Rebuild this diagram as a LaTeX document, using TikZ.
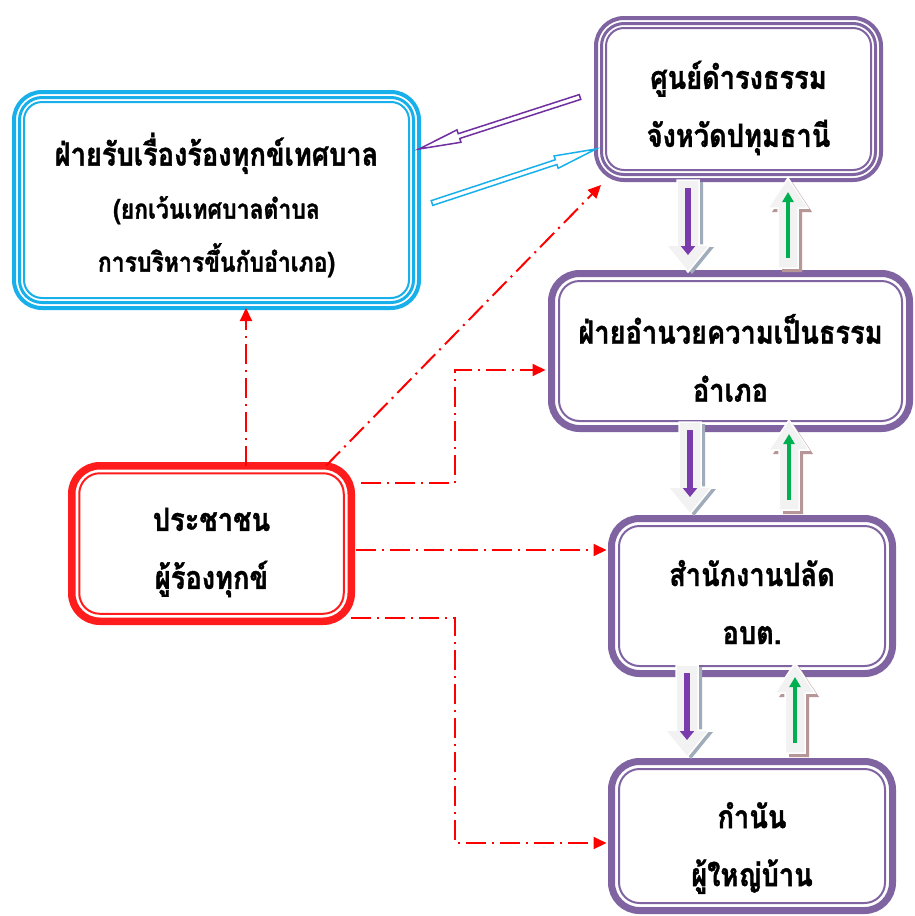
\documentclass[tikz,border=0pt]{standalone}
\usepackage{fontspec}
\newfontfamily\thai[Script=Thai, FakeStretch=0.85, BoldFeatures={FakeBold=1.2}]{Loma}
\usetikzlibrary{arrows.meta,calc}
\definecolor{boxpurple}{RGB}{128,100,162}
\definecolor{boxblue}{RGB}{24,176,234}
\definecolor{boxred}{RGB}{255,28,28}
\definecolor{arrpurple}{RGB}{112,48,160}
\definecolor{dnshade}{RGB}{160,172,186}
\definecolor{upshade}{RGB}{182,150,150}
\definecolor{dnlinec}{RGB}{122,60,172}
\definecolor{uplinec}{RGB}{0,176,80}
\definecolor{blockfill}{RGB}{242,242,242}
\begin{document}
\begin{tikzpicture}[x=1pt,y=-1pt,
  thaitxt/.style={font=\thai\bfseries\fontsize{32}{58}\selectfont, align=center, text=black, inner sep=0pt},
  tribox/.style={draw=#1, line width=4pt, rounded corners=28pt, inner sep=0pt, outer sep=0pt},
  thickbox/.style={draw=#1, line width=7pt, rounded corners=28pt, inner sep=0pt, outer sep=0pt},
  midline/.style={draw=#1, line width=3pt, rounded corners=22.5pt},
  thinline/.style={draw=#1, line width=2pt, rounded corners=18pt},
  innerthin/.style={draw=#1, line width=2pt, rounded corners=20.5pt},
  redcon/.style={draw=red, line width=2pt, dash pattern=on 20pt off 6pt on 2pt off 6pt, -{Triangle[length=13pt,width=12pt]}},
  hollow/.style={draw=#1, line width=1.5pt, line join=miter},
  blockface/.style={fill=blockfill, draw=white, line width=1.5pt},
  dnblock/.pic={
    \fill[dnshade, shift={(4,2)}] (-11,0) -- (11,0) -- (11,65) -- (22,65) -- (0,92) -- (-22,65) -- (-11,65) -- cycle;
    \draw[blockface] (-11,0) -- (11,0) -- (11,65) -- (22,65) -- (0,92) -- (-22,65) -- (-11,65) -- cycle;
    \draw[draw=dnlinec, line width=6pt, -{Triangle[length=9pt,width=14pt]}] (0,8) -- (0,75);
  },
  upblock/.pic={
    \fill[upshade, shift={(4,4)}] (0,0) -- (20,30) -- (10,30) -- (10,90) -- (-10,90) -- (-10,30) -- (-20,30) -- cycle;
    \draw[blockface] (0,0) -- (20,30) -- (10,30) -- (10,90) -- (-10,90) -- (-10,30) -- (-20,30) -- cycle;
    \draw[draw=uplinec, line width=4.5pt, -{Triangle[length=10pt,width=11pt]}] (0,80) -- (0,14);
  }
]
\useasboundingbox (0,0) rectangle (915,916);
\fill[white] (0,0) rectangle (915,916);

% boxes
\node[tribox=boxblue, minimum width=405pt, minimum height=216pt] (blue) at (216.5,200) {};
\draw[midline=boxblue] ([xshift=5.5pt,yshift=-5.5pt]blue.north west) rectangle ([xshift=-5.5pt,yshift=5.5pt]blue.south east);
\draw[thinline=boxblue] ([xshift=10pt,yshift=-10pt]blue.north west) rectangle ([xshift=-10pt,yshift=10pt]blue.south east);
\node[thaitxt, font=\thai\bfseries\fontsize{32}{53}\selectfont] (bluet) at ([yshift=-5pt]blue.center)
  {ฝ่ายรับเรื่องร้องทุกข์เทศบาล\\ {\fontsize{27}{53}\selectfont (ยกเว้นเทศบาลตำบล}\\ {\fontsize{27}{53}\selectfont การบริหารขึ้นกับอำเภอ)}};

\node[tribox=boxpurple, minimum width=285pt, minimum height=162pt] (box1) at (738.5,99) {};
\draw[midline=boxpurple] ([xshift=5.5pt,yshift=-5.5pt]box1.north west) rectangle ([xshift=-5.5pt,yshift=5.5pt]box1.south east);
\draw[thinline=boxpurple] ([xshift=10pt,yshift=-10pt]box1.north west) rectangle ([xshift=-10pt,yshift=10pt]box1.south east);
\node[thaitxt] (box1t) at ([yshift=-9pt]box1.center) {ศูนย์ดำรงธรรม\\จังหวัดปทุมธานี};

\node[thickbox=boxpurple, minimum width=358pt, minimum height=155pt] (box2) at (730.5,351) {};
\draw[innerthin=boxpurple] ([xshift=7.5pt,yshift=-7.5pt]box2.north west) rectangle ([xshift=-7.5pt,yshift=7.5pt]box2.south east);
\node[thaitxt] (box2t) at ([yshift=-7pt]box2.center) {ฝ่ายอำนวยความเป็นธรรม\\อำเภอ};

\node[thickbox=boxpurple, minimum width=281pt, minimum height=155pt] (box3) at (752,596) {};
\draw[innerthin=boxpurple] ([xshift=7.5pt,yshift=-7.5pt]box3.north west) rectangle ([xshift=-7.5pt,yshift=7.5pt]box3.south east);
\node[thaitxt] (box3t) at ([yshift=-6pt]box3.center) {สำนักงานปลัด\\อบต.};

\node[thickbox=boxpurple, minimum width=281pt, minimum height=149pt] (box4) at (752,836) {};
\draw[innerthin=boxpurple] ([xshift=7.5pt,yshift=-7.5pt]box4.north west) rectangle ([xshift=-7.5pt,yshift=7.5pt]box4.south east);
\node[thaitxt] (box4t) at ([yshift=-12pt]box4.center) {กำนัน\\ผู้ใหญ่บ้าน};

\node[thickbox=boxred, line width=7.5pt, minimum width=279.5pt, minimum height=155.5pt] (red) at (211.5,543.5) {};
\draw[innerthin=boxred] ([xshift=7.5pt,yshift=-7.5pt]red.north west) rectangle ([xshift=-7.5pt,yshift=7.5pt]red.south east);
\node[thaitxt] (redt) at ([yshift=-9pt]red.center) {ประชาชน\\ผู้ร้องทุกข์};

% hollow arrows between blue box and box1
\coordinate (tipy) at (0,149);
\coordinate (pA) at (580,97);
\coordinate (pB) at (blue.east |- tipy);
\coordinate (pH) at ($(pB)!42pt!(pA)$);
\draw[hollow=arrpurple] ($(pA)!2.5pt!90:(pB)$) -- ($(pH)!2.5pt!90:(pB)$) -- ($(pH)!6.5pt!90:(pB)$) -- (pB)
  -- ($(pH)!6.5pt!-90:(pB)$) -- ($(pH)!2.5pt!-90:(pB)$) -- ($(pA)!2.5pt!-90:(pB)$) -- cycle;
\coordinate (bA) at (432,203);
\coordinate (bB) at (box1.west |- tipy);
\coordinate (bH) at ($(bB)!42pt!(bA)$);
\draw[hollow=boxblue] ($(bA)!2.5pt!90:(bB)$) -- ($(bH)!2.5pt!90:(bB)$) -- ($(bH)!6.5pt!90:(bB)$) -- (bB)
  -- ($(bH)!6.5pt!-90:(bB)$) -- ($(bH)!2.5pt!-90:(bB)$) -- ($(bA)!2.5pt!-90:(bB)$) -- cycle;

% block arrows between the purple boxes
\pic at (688,180) {dnblock};
\pic at (788,178) {upblock};
\pic at (690,422) {dnblock};
\pic at (789,420) {upblock};
\pic at (687,665) {dnblock};
\pic at (795,663) {upblock};

% red dash-dot connectors
\coordinate (upx) at (246,0);
\draw[redcon] (red.north -| upx) -- (blue.south -| upx);
\coordinate (dgx) at (326,0);
\draw[redcon] (red.north -| dgx) -- ([xshift=5pt,yshift=-5pt]box1.south west);
\coordinate (ex) at (455,0);
\coordinate (e1y) at (0,483);
\coordinate (e1t) at (0,370);
\draw[redcon, shorten <=10pt, shorten >=6pt] (red.east |- e1y) -| (ex |- e1t) -- (box2.west |- e1t);
\coordinate (s2y) at (0,550);
\draw[redcon, shorten <=5pt, shorten >=5pt] (red.east |- s2y) -- (box3.west |- s2y);
\coordinate (e3y) at (0,618);
\coordinate (e3b) at (0,843);
\draw[redcon, shorten >=5pt] (red.east |- e3y) -| (ex |- e3b) -- (box4.west |- e3b);
\end{tikzpicture}
\end{document}
